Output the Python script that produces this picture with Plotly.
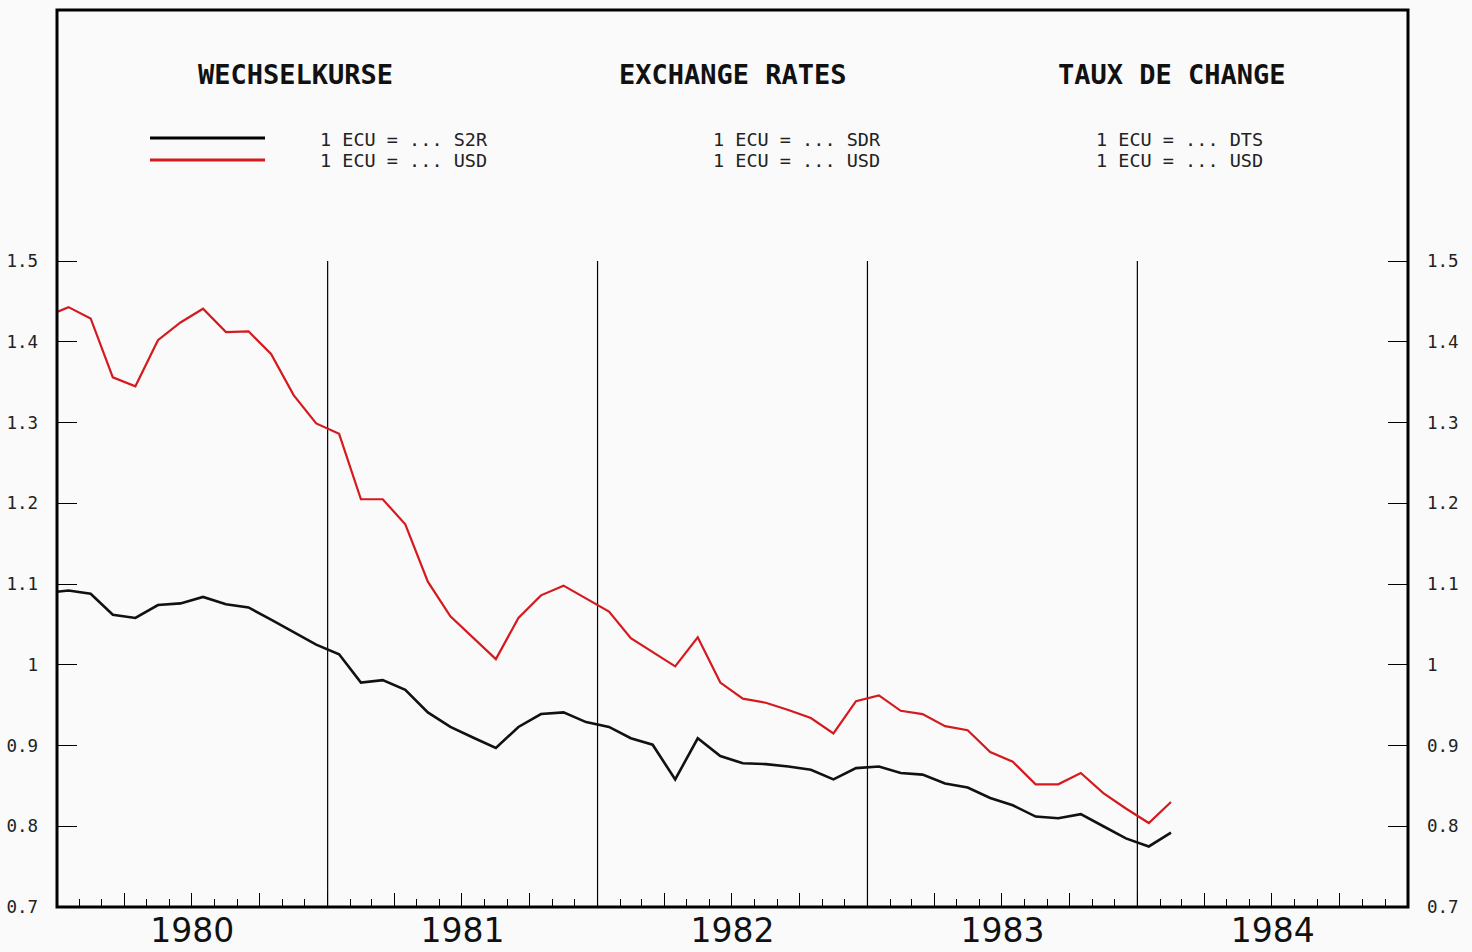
import pandas as pd
import plotly.graph_objects as go

# ---------------- data (monthly averages, Dec 1979 .. Feb 1984) ----------------
months = pd.date_range("1979-12-01", "1984-02-01", freq="MS")

ecu_sdr = [1.089,
           1.092, 1.088, 1.062, 1.058, 1.074, 1.076, 1.084, 1.075, 1.071, 1.056, 1.040, 1.025,
           1.013, 0.978, 0.981, 0.969, 0.941, 0.923, 0.910, 0.897, 0.923, 0.939, 0.941, 0.929,
           0.923, 0.909, 0.901, 0.858, 0.909, 0.887, 0.878, 0.877, 0.874, 0.870, 0.858, 0.872,
           0.874, 0.866, 0.864, 0.853, 0.848, 0.835, 0.826, 0.812, 0.810, 0.815, 0.800, 0.785,
           0.775, 0.792]

ecu_usd = [1.431,
           1.443, 1.429, 1.356, 1.345, 1.402, 1.424, 1.441, 1.412, 1.413, 1.385, 1.334, 1.299,
           1.286, 1.205, 1.205, 1.174, 1.103, 1.060, 1.034, 1.007, 1.058, 1.086, 1.098, 1.082,
           1.066, 1.033, 1.016, 0.998, 1.034, 0.978, 0.958, 0.953, 0.944, 0.934, 0.915, 0.955,
           0.962, 0.943, 0.939, 0.924, 0.919, 0.892, 0.880, 0.852, 0.852, 0.866, 0.841, 0.822,
           0.804, 0.830]

y_tickvals = [0.7, 0.8, 0.9, 1.0, 1.1, 1.2, 1.3, 1.4, 1.5]
y_ticktext = ["0.7", "0.8", "0.9", "1", "1.1", "1.2", "1.3", "1.4", "1.5"]
year_bounds = ["1981-01-01", "1982-01-01", "1983-01-01", "1984-01-01"]

titles = ["WECHSELKURSE", "EXCHANGE RATES", "TAUX DE CHANGE"]
legend_lines = [["1 ECU = ... S2R", "1 ECU = ... USD"],
                ["1 ECU = ... SDR", "1 ECU = ... USD"],
                ["1 ECU = ... DTS", "1 ECU = ... USD"]]

# ---------------- layout geometry (page pixels) ----------------
W, H = 1472, 952
L, R, T, B = 57, 1408, 10, 907   # plot frame in page pixels
X_RANGE = ["1980-01-01", "1985-01-01"]
Y_RANGE = [0.7, 1.811]
RED = "#d41a1f"
MONO = "DejaVu Sans Mono"


def px(x):
    return (x - L) / (R - L)


def py(y):
    return (B - y) / (B - T)


fig = go.Figure()
fig.add_trace(go.Scatter(x=months, y=ecu_sdr, mode="lines", xaxis="x2", yaxis="y",
                         xperiod="M1", xperiodalignment="middle",
                         line=dict(color="#111111", width=2.6), showlegend=False))
fig.add_trace(go.Scatter(x=months, y=ecu_usd, mode="lines", xaxis="x", yaxis="y2",
                         xperiod="M1", xperiodalignment="middle",
                         line=dict(color=RED, width=2.2), showlegend=False))

yax_common = dict(range=Y_RANGE, tickmode="array", tickvals=y_tickvals, ticktext=y_ticktext,
                  ticks="inside", ticklen=20, tickwidth=1.4, tickcolor="black",
                  showgrid=False, zeroline=False, showline=False, automargin=False,
                  tickfont=dict(family=MONO, size=17.5, color="#222"))

fig.update_layout(
    width=W, height=H,
    margin=dict(l=L, r=W - R, t=T, b=H - B, pad=0, autoexpand=False),
    paper_bgcolor="#fafafa", plot_bgcolor="rgba(0,0,0,0)",
    xaxis=dict(type="date", range=X_RANGE, tick0="1980-01-01", dtick="M3",
               ticks="inside", ticklen=14, tickwidth=1.4, tickcolor="black", automargin=False,
               showticklabels=False, showgrid=False, zeroline=False, showline=False,
               minor=dict(dtick="M1", tick0="1980-01-01", ticks="inside", ticklen=8,
                          tickwidth=1.2, tickcolor="black", showgrid=False)),
    xaxis2=dict(type="date", range=X_RANGE, overlaying="x", anchor="y", side="bottom",
                tick0="1980-01-01", dtick="M12", tickformat="%Y", ticklabelmode="period",
                ticks="", showgrid=False, zeroline=False, showline=False, automargin=False,
                ticklabelstandoff=1,
                tickfont=dict(family="DejaVu Sans", size=33, color="#111")),
    yaxis=dict(side="left", anchor="x", ticklabelstandoff=18, **yax_common),
    yaxis2=dict(side="right", anchor="x", overlaying="y", ticklabelstandoff=18, **yax_common),
)

shapes = []
# year separators
for xb in year_bounds:
    shapes.append(dict(type="line", xref="x", yref="y", x0=xb, x1=xb, y0=0.7, y1=1.5,
                       line=dict(color="black", width=1.2), layer="below"))
# frame
shapes.append(dict(type="rect", xref="paper", yref="paper", x0=0, x1=1, y0=0, y1=1,
                   line=dict(color="black", width=3)))
# legend samples
shapes.append(dict(type="line", xref="paper", yref="paper", x0=px(150), x1=px(265),
                   y0=py(138), y1=py(138), line=dict(color="black", width=3)))
shapes.append(dict(type="line", xref="paper", yref="paper", x0=px(150), x1=px(265),
                   y0=py(160), y1=py(160), line=dict(color=RED, width=3)))
fig.update_layout(shapes=shapes)

annotations = []
for title, cx in zip(titles, [295, 733, 1172]):
    annotations.append(dict(text="<b>" + title + "</b>", xref="paper", yref="paper",
                            x=px(cx), y=py(74), xanchor="center", yanchor="middle",
                            showarrow=False, font=dict(family=MONO, size=27, color="#111")))
for lines, lx in zip(legend_lines, [318, 711, 1094]):
    for txt, ly in zip(lines, [139, 160]):
        annotations.append(dict(text=txt, xref="paper", yref="paper", x=px(lx), y=py(ly),
                                xanchor="left", yanchor="middle", showarrow=False,
                                font=dict(family=MONO, size=18.5, color="#222")))
fig.update_layout(annotations=annotations)

fig.write_html("out.html", config={"displayModeBar": False},
               post_script="document.body.style.margin='0';")
